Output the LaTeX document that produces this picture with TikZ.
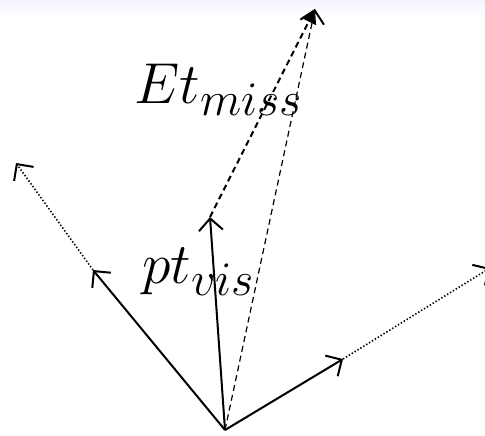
\documentclass[tikz,border=0pt]{standalone}
\usetikzlibrary{arrows.meta}
\begin{document}
\begin{tikzpicture}[x=0.5pt, y=-0.5pt,
    vec/.style={line width=1pt, -{Straight Barb[length=6pt, width=12pt, line width=1pt]}},
    prolong/.style={line width=0.8pt, dash pattern=on 0.7pt off 1pt, -{Straight Barb[length=6pt, width=12pt, line width=1pt]}},
    miss/.style={line width=1pt, dash pattern=on 3pt off 2pt, -{Triangle[length=7pt, width=8pt]}},
    suma/.style={line width=0.6pt, dash pattern=on 3pt off 2pt, -{Straight Barb[length=6pt, width=12pt, line width=1pt]}},
    etiqueta/.style={font=\Huge, scale=1.16, inner sep=0pt}]
        % Marco
        \useasboundingbox (0, 0) rectangle (485, 435);
        \shade[top color=blue!4, bottom color=white] (0, 0) rectangle (485, 16);

        % Puntos
        \coordinate (O) at (225, 430);
        \coordinate (A) at (93, 270);
        \coordinate (A2) at (16, 163);
        \coordinate (B) at (210, 217);
        \coordinate (C) at (343, 359);
        \coordinate (C2) at (490, 268);
        \coordinate (M) at (315, 9);

        % Vectores visibles
        \draw[vec] (O) -- (A);
        \draw[vec] (O) -- (B);
        \draw[vec] (O) -- (C);

        % Prolongaciones punteadas
        \draw[prolong] (A) -- (A2);
        \draw[prolong] (C) -- (C2);

        % Energia faltante y suma
        \draw[suma] (O) -- (M);
        \draw[miss] (B) -- (M);

        % Etiquetas
        \node[etiqueta] (etmiss) at (219, 90) {$Et_{miss}$};
        \node[etiqueta] (ptvis) at (199, 272) {$pt_{vis}$};
    \end{tikzpicture}
\end{document}
